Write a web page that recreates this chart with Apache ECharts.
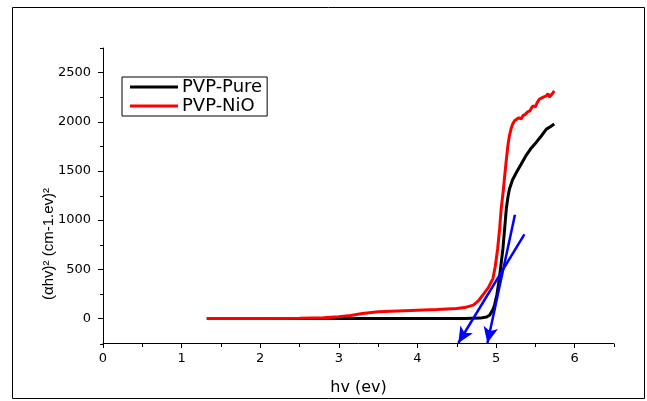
<!DOCTYPE html>
<html><head><meta charset="utf-8">
<script src="https://cdn.jsdelivr.net/npm/echarts@6/dist/echarts.min.js"></script>
<style>html,body{margin:0;padding:0;background:#fff}#c{width:647px;height:401px}</style>
</head><body><div id="c"></div>
<script>
const seriesNames = ['PVP-Pure', 'PVP-NiO'];
const pureData = [[1.32,0],[2,0],[3,0],[4,0],[4.6,0],[4.8,3],[4.88,15],[4.92,34],[4.96,90],[4.98,135],[5.01,240],[5.036,372],[5.06,530],[5.087,709],[5.11,920],[5.13,1114],[5.15,1230],[5.17,1317],[5.21,1410],[5.26,1486],[5.32,1570],[5.38,1655],[5.44,1725],[5.51,1790],[5.57,1850],[5.64,1925],[5.69,1950],[5.74,1976]];
const nioData = [[1.32,0],[2,0],[2.5,2],[2.8,6],[3,17],[3.15,30],[3.3,51],[3.5,68],[3.75,76],[4,84],[4.25,90],[4.5,100],[4.6,110],[4.71,135],[4.77,175],[4.83,236],[4.9,310],[4.96,405],[4.99,530],[5.02,709],[5.045,910],[5.065,1114],[5.09,1290],[5.11,1452],[5.13,1610],[5.15,1756],[5.17,1860],[5.19,1925],[5.21,1975],[5.235,2010],[5.26,2000],[5.29,2040],[5.32,2030],[5.34,2060],[5.37,2075],[5.40,2100],[5.43,2110],[5.45,2140],[5.47,2161],[5.5,2150],[5.52,2190],[5.55,2229],[5.57,2210],[5.6,2250],[5.62,2240],[5.64,2263],[5.66,2285],[5.68,2250],[5.70,2246],[5.72,2290],[5.73,2270],[5.74,2313]];
const tangentA = [[5.24,1054],[4.89,-250]];
const tangentB = [[5.36,854],[4.52,-250]];
const xMajorTicks = [0,1,2,3,4,5,6];
const xMinorTicks = [0.5,1.5,2.5,3.5,4.5,5.5,6.5];
const yMajorTicks = [0,500,1000,1500,2000,2500];
const yMinorTicks = [-250,250,750,1250,1750,2250,2750];

const wideFont = '"DejaVu Sans", Verdana, sans-serif';
const font = '"Liberation Sans", Arial, sans-serif';
const chart = echarts.init(document.getElementById('c'), null, {renderer:'canvas'});
const grid = {left:103, right:33, top:48, bottom:57};
const axisLineStyle = {color:'#000', width:1};
chart.setOption({
  animation:false,
  backgroundColor:'#fff',
  grid:[Object.assign({}, grid), Object.assign({}, grid)],
  xAxis:[
    {type:'value', gridIndex:0, min:0, max:6.5,
     name:'hv (ev)', nameLocation:'middle', nameGap:37,
     nameTextStyle:{fontFamily:wideFont, fontSize:16, color:'#000'},
     axisLine:{show:true, onZero:false, lineStyle:axisLineStyle},
     axisTick:{show:true, customValues:xMajorTicks, length:5, lineStyle:{color:'#000'}},
     axisLabel:{customValues:xMajorTicks, margin:9, fontFamily:wideFont, fontSize:13, color:'#000'},
     splitLine:{show:false}},
    {type:'value', gridIndex:1, min:0, max:6.5,
     axisLine:{show:false, onZero:false},
     axisTick:{show:true, customValues:xMinorTicks, length:3, lineStyle:{color:'#000'}},
     axisLabel:{show:false}, splitLine:{show:false}}
  ],
  yAxis:[
    {type:'value', gridIndex:0, min:-250, max:2750,
     axisLine:{show:true, onZero:false, lineStyle:axisLineStyle},
     axisTick:{show:true, customValues:yMajorTicks, length:5, lineStyle:{color:'#000'}},
     axisLabel:{customValues:yMajorTicks, margin:12, fontFamily:wideFont, fontSize:13, color:'#000',
       formatter:function(v){return String(v);}},
     splitLine:{show:false}},
    {type:'value', gridIndex:1, min:-250, max:2750,
     axisLine:{show:false, onZero:false},
     axisTick:{show:true, customValues:yMinorTicks, length:3, lineStyle:{color:'#000'}},
     axisLabel:{show:false}, splitLine:{show:false}}
  ],
  legend:{
    orient:'vertical', left:122, top:77,
    data:seriesNames,
    icon:'rect', itemWidth:48, itemHeight:3, itemGap:1,
    borderColor:'#000', borderWidth:1, borderRadius:0,
    padding:[1,5,1,8],
    textStyle:{fontFamily:wideFont, fontSize:18, color:'#000', padding:[0,0,0,-1]}
  },
  graphic:[
    {type:'rect', shape:{x:12.5, y:7.5, width:632, height:391}, style:{fill:'none', stroke:'#000', lineWidth:1}, silent:true, z:0},
    {type:'text', x:49, y:244, rotation:Math.PI/2,
     style:{text:'(\u03b1hv)\u00b2 (cm-1.ev)\u00b2', font:'15px ' + font, fill:'#000', textAlign:'center', textVerticalAlign:'middle'}}
  ],
  series:[
    {name:seriesNames[0], type:'line', xAxisIndex:0, yAxisIndex:0, data:pureData, showSymbol:false, symbol:'none',
     lineStyle:{color:'#000', width:3}, itemStyle:{color:'#000'}, z:3},
    {name:seriesNames[1], type:'line', xAxisIndex:0, yAxisIndex:0, data:nioData, showSymbol:false, symbol:'none',
     lineStyle:{color:'#ff0000', width:3}, itemStyle:{color:'#ff0000'}, z:4},
    {name:'tangents', type:'line', xAxisIndex:0, yAxisIndex:0, data:[], z:5,
     markLine:{silent:true, symbol:['none','arrow'], symbolSize:[11,16], animation:false,
       label:{show:false},
       lineStyle:{color:'#0000ff', width:2.5, type:'solid'},
       data:[
         [{coord:tangentA[0]},{coord:tangentA[1]}],
         [{coord:tangentB[0]},{coord:tangentB[1]}]
       ]}}
  ]
});
</script></body></html>
